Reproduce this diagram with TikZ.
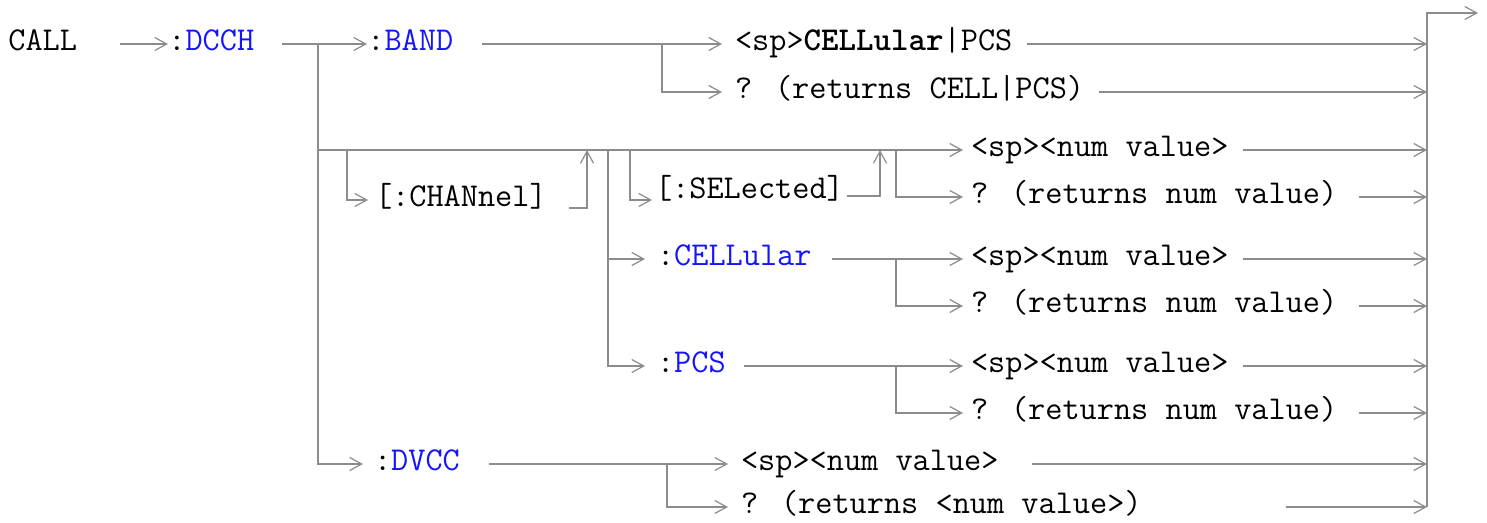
\documentclass[tikz,border=0pt]{standalone}
\usepackage{fontspec}
\usetikzlibrary{arrows.meta}
\definecolor{lngray}{RGB}{140,140,140}
\definecolor{cmdblue}{RGB}{20,20,255}
\newcommand{\cmd}[1]{:\textcolor{cmdblue}{#1}}

\begin{document}
\begin{tikzpicture}[x=0.5pt,y=-0.5pt,
        ln/.style={lngray,line width=1pt},
        arw/.style={-{Straight Barb[length=6pt,width=6.5pt,line width=0.6pt]}},
        lbl/.style={anchor=west,inner sep=0pt,text height=10pt,text depth=3.3pt,
            font=\ttfamily\fontsize{16.67pt}{19pt}\selectfont}]
    \useasboundingbox (0,0) rectangle (1487,523);

    % keywords
    \node[lbl] (call) at (8,44) {CALL};
    \node[lbl] (dcch) at (168,44) {\cmd{DCCH}};
    \node[lbl] (band) at (367,44) {\cmd{BAND}};
    \node[lbl,outer xsep=3.5pt] (chan) at (368,200) {[:CHANnel]};
    \node[lbl,outer xsep=1.5pt] (sel) at (652,192) {[:SELected]};
    \node[lbl,outer xsep=6pt] (cell) at (645,259) {\cmd{CELLular}};
    \node[lbl,outer xsep=6pt] (pcs) at (645,366) {\cmd{PCS}};
    \node[lbl,outer xsep=5.5pt] (dvcc) at (363,464) {\cmd{DVCC}};

    % parameters
    \node[lbl,outer xsep=6.5pt] (bandsp) at (722,44) {<sp>\textbf{CELLular}|PCS};
    \node[lbl,outer xsep=6.5pt] (bandq) at (722,92) {? (returns CELL|PCS)};
    \node[lbl,outer xsep=4pt] (chsp) at (963,150) {<sp><num value>};
    \node[lbl,outer xsep=4pt] (chq) at (963,197) {? (returns num value)};
    \node[lbl,outer xsep=4pt] (cellsp) at (963,259) {<sp><num value>};
    \node[lbl,outer xsep=4pt] (cellq) at (963,306) {? (returns num value)};
    \node[lbl,outer xsep=4pt] (pcssp) at (963,366) {<sp><num value>};
    \node[lbl,outer xsep=4pt] (pcsq) at (963,413) {? (returns num value)};
    \node[lbl,outer xsep=6.5pt] (dvsp) at (728,464) {<sp><num value>};
    \node[lbl,outer xsep=6.5pt] (dvq) at (728,507) {? (returns <num value>)};

    % junctions
    \coordinate (jd) at (318,44);
    \coordinate (jch) at (318,150);
    \coordinate (jb) at (662,44);
    \coordinate (jc) at (347,150);
    \coordinate (jcx) at (587,150);
    \coordinate (jp) at (608,150);
    \coordinate (js) at (630,150);
    \coordinate (jsx) at (880,150);
    \coordinate (jv) at (896,150);
    \coordinate (jcl) at (896,259);
    \coordinate (jpc) at (896,366);
    \coordinate (jdv) at (667,464);
    \coordinate (busb) at (1427,507);
    \coordinate (bust) at (1427,13);
    \coordinate (out) at (1478,13);

    \draw[ln,arw] (call.east) ++(43,0) -- (dcch.west);
    \draw[ln,arw] (dcch.east) ++(27.5,0) -- (band.west);
    \draw[ln,arw] (band.east) ++(28.5,0) -- (bandsp.west);
    \draw[ln,arw] (jb) |- (bandq.west);
    \draw[ln,arw] (jd) |- (dvcc.west);
    \draw[ln,arw] (jch) -- (chsp.west);
    \draw[ln,arw] (jc) |- (chan.west);
    \draw[ln,arw] ([yshift=-4pt]chan.east) ++(15,0) -| (jcx);
    \draw[ln,arw] (jp) |- (pcs.west);
    \draw[ln,arw] (jp) |- (cell.west);
    \draw[ln,arw] (js) |- ([yshift=-4pt]sel.west);
    \draw[ln,arw] ([yshift=-2pt]sel.east) -| (jsx);
    \draw[ln,arw] (jv) |- (chq.west);
    \draw[ln,arw] (cell.east) ++(8.5,0) -- (cellsp.west);
    \draw[ln,arw] (jcl) |- (cellq.west);
    \draw[ln,arw] (pcs.east) ++(6,0) -- (pcssp.west);
    \draw[ln,arw] (jpc) |- (pcsq.west);
    \draw[ln,arw] (dvcc.east) ++(18.5,0) -- (dvsp.west);
    \draw[ln,arw] (jdv) |- (dvq.west);

    % into the right bus
    \foreach \n/\g in {bandsp/2,bandq/2,chsp/6.5,chq/13.5,cellsp/6.5,cellq/13.5,
            pcssp/6.5,pcsq/13.5,dvsp/20.5,dvq/131.5}
        \draw[ln,arw] (\n.east) ++(\g,0) -- (\n.east -| bust);
    \draw[ln,arw] (busb) -- (bust) -- (out);
\end{tikzpicture}
\end{document}
